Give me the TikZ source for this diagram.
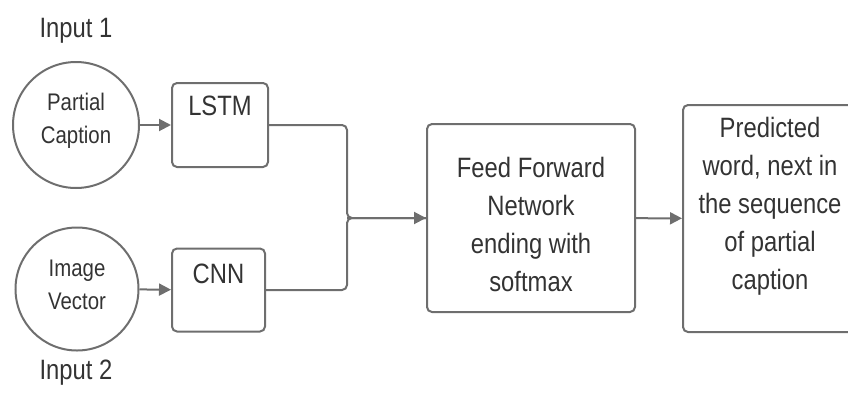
\documentclass[tikz,border=0pt]{standalone}
\usepackage{fontspec}
\setmainfont[FakeStretch=0.85]{Liberation Sans}
\usetikzlibrary{arrows.meta}
\definecolor{linegray}{HTML}{6E6E6E}
\definecolor{textgray}{HTML}{333333}

\begin{document}
\begin{tikzpicture}[x=1pt,y=-1pt]
\tikzstyle{every node}+=[inner sep=0pt, text=textgray]
\tikzstyle{inputcircle}=[draw=linegray, line width=2pt, circle]
\tikzstyle{circlefont}=[font=\fontsize{24}{33}\selectfont, align=center]
\tikzstyle{layerbox}=[draw=linegray, line width=2pt, rounded corners=5pt]
\tikzstyle{layerfont}=[font=\fontsize{28}{38}\selectfont, align=center]
\tikzstyle{wire}=[draw=linegray, line width=2pt, rounded corners=5pt]
\tikzstyle{arrowtip}=[draw=linegray, line width=2pt, -{Triangle[length=12pt,width=12pt]}]

\useasboundingbox (0,0) rectangle (848,394);
\clip (0,0) rectangle (848,394);

% inputs
\node [inputcircle, minimum size=126pt,
       label={[circlefont, anchor=center, yshift=4pt]center:Partial\\Caption}] (caption) at (76,125) {};
\node [inputcircle, minimum size=123pt,
       label={[circlefont, anchor=center, yshift=4pt]center:Image\\Vector}] (image) at (77,289) {};
\node [layerfont, anchor=base] (inone) at (76,37) {Input 1};
\node [layerfont, anchor=base] (intwo) at (76,379) {Input 2};

% encoders
\node [layerbox, minimum width=96pt, minimum height=84pt,
       label={[layerfont, anchor=center, yshift=-24pt]north:LSTM}] (lstm) at (220,125) {};
\node [layerbox, minimum width=93pt, minimum height=83pt,
       label={[layerfont, anchor=center, yshift=-26pt]north:CNN}] (cnn) at (218.5,290) {};

% decoder and output
\node [layerbox, minimum width=208pt, minimum height=188pt,
       label={[layerfont, anchor=center, yshift=-6pt]center:Feed Forward\\Network\\ending with\\softmax}] (ffn) at (531,218) {};
\node [layerbox, minimum width=174pt, minimum height=227pt,
       label={[layerfont, anchor=center, yshift=12pt]center:Predicted\\word, next in\\the sequence\\of partial\\caption}] (word) at (770,218.5) {};

\coordinate (join) at (347,218);

\draw [arrowtip] (caption) -- (lstm);
\draw [arrowtip] (image) -- (cnn);
\draw [wire] (lstm.east) -| (join) -- (ffn.west);
\draw [wire] (cnn.east) -| (join) -- (ffn.west);
\draw [arrowtip] (join) -- (ffn.west);
\draw [arrowtip] (ffn) -- (word);
\end{tikzpicture}
\end{document}
